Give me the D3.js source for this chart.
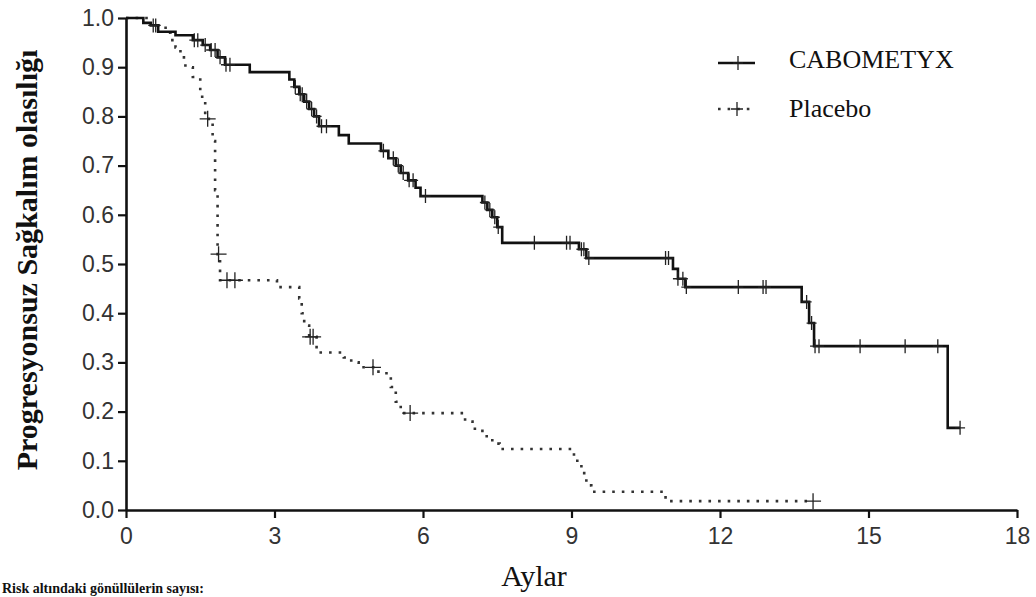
<!DOCTYPE html>
<html lang="tr">
<head>
  <meta charset="UTF-8">
  <title>Progresyonsuz Sağkalım</title>
  <script src="https://cdn.jsdelivr.net/npm/d3@7"></script>
  <style>
    body { margin: 0; background: #fff; }
    svg { display: block; }
  </style>
</head>
<body>
<div id="grafica"></div>
<script>
// --- datos ---
const xTicks = [0, 3, 6, 9, 12, 15, 18]
const yTicks = [0, 0.1, 0.2, 0.3, 0.4, 0.5, 0.6, 0.7, 0.8, 0.9, 1.0]
const seriesNames = ['CABOMETYX', 'Placebo']

// CABOMETYX: event times (months) and survival after each event
const caboTimes = [0.35, 0.5, 0.65, 1.0, 1.35, 1.55, 1.7, 1.85, 2.0, 2.5,
  3.3, 3.4, 3.5, 3.6, 3.7, 3.8, 3.9, 4.3, 4.5, 5.15, 5.3, 5.45, 5.55, 5.7,
  5.85, 5.95, 7.2, 7.3, 7.4, 7.5, 7.6, 9.15, 9.3, 11.05, 11.15, 11.3,
  13.65, 13.8, 13.9, 16.6]
const caboSurv = [0.99, 0.985, 0.972, 0.965, 0.955, 0.945, 0.935, 0.92, 0.905, 0.89,
  0.875, 0.86, 0.845, 0.83, 0.815, 0.80, 0.78, 0.762, 0.745, 0.73, 0.715, 0.70, 0.685, 0.67,
  0.655, 0.638, 0.625, 0.61, 0.595, 0.575, 0.543, 0.53, 0.512, 0.49, 0.47, 0.453,
  0.423, 0.38, 0.333, 0.167]
const caboEnd = 16.85
const caboCensor = [0.55, 0.6, 1.38, 1.45, 1.6, 1.72, 1.8, 1.9, 2.02, 2.1,
  3.42, 3.52, 3.56, 3.65, 3.75, 3.85, 3.95, 4.05, 5.2, 5.4, 5.5, 5.6, 5.72, 5.8,
  6.05, 7.25, 7.35, 7.45, 7.52, 8.25, 8.9, 8.97, 9.2, 9.25, 9.35, 10.9, 10.96,
  11.15, 11.25, 11.32, 12.37, 12.87, 12.93, 13.75, 13.85, 13.92, 14.0, 14.83,
  15.74, 16.4, 16.85]

// Placebo
const placTimes = [0.5, 0.8, 0.9, 1.0, 1.1, 1.2, 1.35, 1.5, 1.6, 1.75, 1.8, 1.85,
  1.9, 3.05, 3.5, 3.55, 3.6, 3.7, 3.85, 4.4, 4.55, 4.7, 5.1, 5.35, 5.45, 5.55,
  6.85, 7.0, 7.2, 7.4, 7.55, 9.05, 9.2, 9.3, 9.4, 10.9]
const placSurv = [0.985, 0.97, 0.955, 0.94, 0.92, 0.90, 0.88, 0.84, 0.795, 0.75, 0.65, 0.52,
  0.467, 0.453, 0.43, 0.40, 0.375, 0.352, 0.32, 0.31, 0.30, 0.29, 0.278, 0.25, 0.22, 0.197,
  0.18, 0.165, 0.15, 0.135, 0.124, 0.10, 0.075, 0.05, 0.037, 0.018]
const placEnd = 13.88
const placCensor = [1.65, 1.87, 2.04, 2.2, 3.72, 3.78, 4.99, 5.74, 13.88]

// --- layout ---
const ancho_total = 1036
const alto_total = 597
const margin = { left: 126, right: 19, top: 18, bottom: 87 }
const ancho = ancho_total - margin.left - margin.right
const alto = alto_total - margin.top - margin.bottom

const svg = d3.select('#grafica')
  .append('svg')
  .attr('width', ancho_total)
  .attr('height', alto_total)

const g = svg.append('g')
  .attr('transform', `translate(${margin.left},${margin.top})`)

const x = d3.scaleLinear().domain([0, 18]).range([0, ancho])
const y = d3.scaleLinear().domain([0, 1]).range([alto, 0])

function stepData(times, surv, end) {
  const pts = [[0, 1]]
  times.forEach((t, i) => pts.push([t, surv[i]]))
  pts.push([end, surv[surv.length - 1]])
  return pts
}
function survAt(times, surv, t) {
  const i = d3.bisectRight(times, t)
  return i === 0 ? 1 : surv[i - 1]
}

const linea = d3.line()
  .x(d => x(d[0]))
  .y(d => y(d[1]))
  .curve(d3.curveStepAfter)

// --- axes ---
const xAxis = g.append('g')
  .attr('transform', `translate(0,${alto})`)
  .call(d3.axisBottom(x).tickValues(xTicks).tickSize(8).tickSizeOuter(0).tickPadding(5).tickFormat(d3.format('d')))
const yAxis = g.append('g')
  .call(d3.axisLeft(y).tickValues(yTicks).tickSize(8).tickSizeOuter(0).tickPadding(4).tickFormat(d3.format('.1f')))

;[xAxis, yAxis].forEach(a => {
  a.select('.domain').attr('stroke', '#111').attr('stroke-width', 2.6)
  a.selectAll('.tick line').attr('stroke', '#111').attr('stroke-width', 2.2)
  a.selectAll('.tick text')
    .attr('fill', '#333')
    .style('font-family', '"Liberation Sans", Arial, sans-serif')
    .style('font-size', '23px')
})
xAxis.selectAll('.tick text').attr('dy', '0.9em')

// --- curves ---
function cross(sel, w, h) {
  sel.attr('d', `M${-w},0H${w}M0,${-h}V${h}`)
}

g.append('path')
  .attr('fill', 'none')
  .attr('stroke', '#333')
  .attr('stroke-width', 2.6)
  .attr('stroke-dasharray', '2.6,7')
  .attr('d', linea(stepData(placTimes, placSurv, placEnd)))

g.append('path')
  .attr('fill', 'none')
  .attr('stroke', '#111')
  .attr('stroke-width', 2.6)
  .attr('d', linea(stepData(caboTimes, caboSurv, caboEnd)))

g.selectAll('.cens-cabo')
  .data(caboCensor)
  .enter().append('path')
  .attr('class', 'cens-cabo')
  .attr('transform', d => `translate(${x(d)},${y(survAt(caboTimes, caboSurv, d))})`)
  .attr('stroke', '#222')
  .attr('stroke-width', 1.3)
  .call(cross, 5, 7)

g.selectAll('.cens-plac')
  .data(placCensor)
  .enter().append('path')
  .attr('class', 'cens-plac')
  .attr('transform', d => `translate(${x(d)},${y(survAt(placTimes, placSurv, d))})`)
  .attr('stroke', '#222')
  .attr('stroke-width', 1.3)
  .call(cross, 8, 8)

// --- legend ---
const legend = svg.append('g').attr('transform', 'translate(718,0)')
legend.append('line')
  .attr('x1', 0).attr('x2', 37).attr('y1', 63).attr('y2', 63)
  .attr('stroke', '#111').attr('stroke-width', 2.6)
legend.append('path').attr('transform', 'translate(20,63)')
  .attr('stroke', '#222').attr('stroke-width', 1.3).call(cross, 5, 7)
legend.append('line')
  .attr('x1', 0).attr('x2', 37).attr('y1', 109).attr('y2', 109)
  .attr('stroke', '#333').attr('stroke-width', 2.6).attr('stroke-dasharray', '2.6,7')
legend.append('path').attr('transform', 'translate(19,109)')
  .attr('stroke', '#222').attr('stroke-width', 1.3).call(cross, 6, 7)
legend.selectAll('.leg-text')
  .data(seriesNames)
  .enter().append('text')
  .attr('x', 71)
  .attr('y', (d, i) => i === 0 ? 68 : 117)
  .style('font-family', '"Liberation Serif", "Times New Roman", serif')
  .style('font-size', '26px')
  .attr('fill', '#111')
  .text(d => d)

// --- titles ---
svg.append('text')
  .attr('transform', 'translate(37,260) rotate(-90)')
  .attr('text-anchor', 'middle')
  .style('font-family', '"Liberation Serif", "Times New Roman", serif')
  .style('font-weight', 'bold')
  .style('font-size', '30px')
  .attr('fill', '#111')
  .text('Progresyonsuz Sağkalım olasılığı')

svg.append('text')
  .attr('x', 534)
  .attr('y', 586)
  .attr('text-anchor', 'middle')
  .style('font-family', '"Liberation Serif", "Times New Roman", serif')
  .style('font-size', '30px')
  .attr('fill', '#111')
  .text('Aylar')

svg.append('text')
  .attr('x', 2)
  .attr('y', 593)
  .style('font-family', '"Liberation Serif", "Times New Roman", serif')
  .style('font-weight', 'bold')
  .style('font-size', '14px')
  .attr('fill', '#111')
  .text('Risk altındaki gönüllülerin sayısı:')
</script>
</body>
</html>
